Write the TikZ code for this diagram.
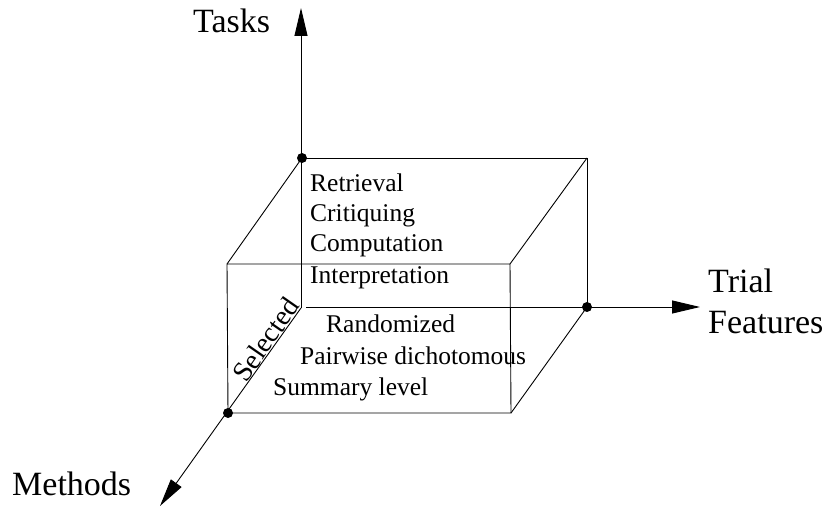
\documentclass[tikz,border=0pt]{standalone}
\usepackage{fontspec}
\setmainfont{Liberation Serif}
\usetikzlibrary{arrows.meta}
\begin{document}
\begin{tikzpicture}[x=1pt,y=-1pt,
  edge/.style={line width=0.9pt},
  axis/.style={line width=0.9pt,-{Triangle[length=28pt,width=13pt]}},
  dot/.style={circle,fill=black,inner sep=0pt,minimum size=10pt},
  inner/.style={anchor=base west,inner sep=0pt,font=\fontsize{25.5}{30}\selectfont},
  big/.style={anchor=base west,inner sep=0pt,font=\fontsize{34}{40}\selectfont}]
\useasboundingbox (0,0) rectangle (832,510);
% corner coordinates
\coordinate (o) at (301,308);
\coordinate (ostart) at (306,307);
\coordinate (btr) at (587,158);
\coordinate (ftl) at (227,264);
\coordinate (ftr) at (510,264);
\coordinate (fbr) at (511,413);
\coordinate (tasksend) at (301,8);
\coordinate (trialend) at (700,307);
\coordinate (methodsend) at (160,506);
% dots
\node[dot] (btl) at (302,158) {};
\node[dot] (bbr) at (587,307) {};
\node[dot] (fbl) at (228,413) {};
% axes
\draw[axis] (o) -- (tasksend);
\draw[axis] (ostart) -- (trialend);
\draw[axis] (o) -- (methodsend);
% box edges
\draw[edge] (btl.center) -- (btr) -- (bbr.center);
\draw[edge] (btl.center) -- (ftl);
\draw[edge] (btr) -- (ftr);
\draw[edge] (bbr.center) -- (fbr);
\draw[edge] (ftl) -- (ftr) -- (fbr) -- (fbl.center) -- (ftl);
% labels
\node[big] (tasks) at (193,33) {Tasks};
\node[big] (trial) at (708,293) {Trial};
\node[big] (features) at (708,334) {Features};
\node[big] (methods) at (12,495) {Methods};
% task list
\node[inner] (t1) at (310,192) {Retrieval};
\node[inner] (t2) at (310,222) {Critiquing};
\node[inner] (t3) at (310,252) {Computation};
\node[inner] (t4) at (310,284) {Interpretation};
% methods list
\node[inner] (m1) at (326,333) {Randomized};
\node[inner] (m2) at (300,364) {Pairwise dichotomous};
\node[inner] (m3) at (273,395) {Summary level};
\path (fbl.center) -- (o) node[pos=0.64,sloped,above,inner sep=1pt,font=\fontsize{28}{32}\selectfont] (sel) {Selected};
\end{tikzpicture}
\end{document}
